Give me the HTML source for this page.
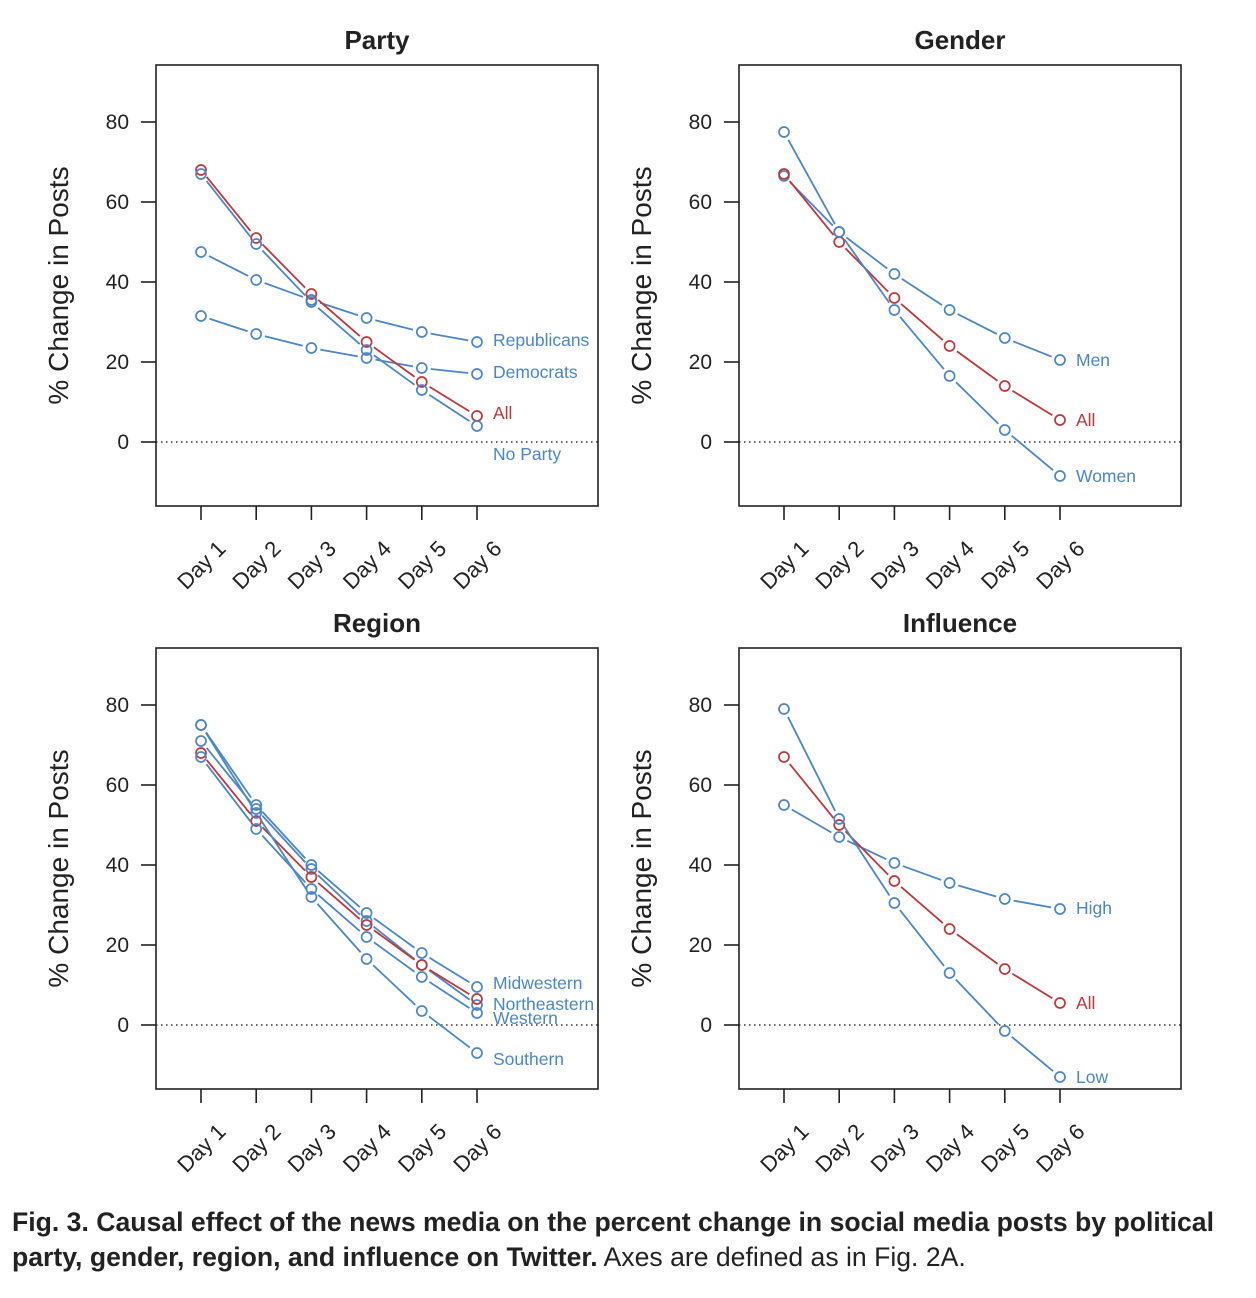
<!DOCTYPE html>
<html><head><meta charset="utf-8"><style>
body{margin:0;background:#fff;}
svg{display:block;font-family:"Liberation Sans",sans-serif;}
</style></head><body>
<svg id="fig" width="1256" height="1298" viewBox="0 0 1256 1298" xmlns="http://www.w3.org/2000/svg">
<text x="12" y="1231" font-size="26.6" font-weight="bold" fill="#222" textLength="1202">Fig. 3. Causal effect of the news media on the percent change in social media posts by political</text>
<text x="12" y="1266" font-size="26.6" fill="#222"><tspan font-weight="bold">party, gender, region, and influence on Twitter.</tspan> Axes are defined as in Fig. 2A.</text>
</svg>
<script>
const days = ["Day 1","Day 2","Day 3","Day 4","Day 5","Day 6"];
const yTicks = [0,20,40,60,80];
const partyNames = ["Republicans","Democrats","All","No Party"];
const partyValues = [[47.5,40.5,35.5,31,27.5,25],[31.5,27,23.5,21,18.5,17],[68,51,37,25,15,6.5],[67,49.5,35,23,13,4]];
const partyLabelDy = [-2,-2,-3,28];
const genderNames = ["Men","All","Women"];
const genderValues = [[66.5,52.5,42,33,26,20.5],[67,50,36,24,14,5.5],[77.5,52.5,33,16.5,3,-8.5]];
const genderLabelDy = [0,0,0];
const regionNames = ["Midwestern","Northeastern","All","Western","Southern"];
const regionValues = [[75,55,40,28,18,9.5],[71,54,39,26,15,5],[68,51,37,25,15,6.5],[67,49,34,22,12,3],[75,53,32,16.5,3.5,-7]];
const regionLabelDy = [-4,-1,null,5,6];
const influenceNames = ["High","All","Low"];
const influenceValues = [[55,47,40.5,35.5,31.5,29],[67,50,36,24,14,5.5],[79,51.5,30.5,13,-1.5,-13]];
const influenceLabelDy = [-1,0,0];

const BLUE="#4a86c8", RED="#c0373a";
const svg=document.getElementById('fig');
const NS="http://www.w3.org/2000/svg";
function mk(tag,attrs,parent){const e=document.createElementNS(NS,tag);for(const k in attrs)e.setAttribute(k,attrs[k]);parent.appendChild(e);return e;}

function panel(title,left,top,names,values,labelDy,key){
  const g=mk('g',{},svg);
  
  
  const W=442,H=441;
  const x=i=>left+45+i*55.2;
  const y=v=>top+57+(80-v)*4;
  const t=mk('text',{x:left+221,y:top-16,'text-anchor':'middle','font-size':26,'font-weight':'bold',fill:'#222'},g);
  t.textContent=title;
  
  
  const box=mk('rect',{x:left,y:top,width:W,height:H,fill:'none',stroke:'#222','stroke-width':1.6},g);
  
  
  const z=mk('line',{x1:left,x2:left+W,y1:y(0),y2:y(0),stroke:'#333','stroke-width':1.6,'stroke-dasharray':'1.5 3.5'},g);
  
  
  yTicks.forEach(v=>{
    mk('line',{x1:left-15,x2:left,y1:y(v),y2:y(v),stroke:'#222','stroke-width':1.6},g);
    const tl=mk('text',{x:left-27,y:y(v)+7,'text-anchor':'end','font-size':21,fill:'#222'},g);
    tl.textContent=v;
    
    
  });
  days.forEach((d,i)=>{
    mk('line',{x1:x(i),x2:x(i),y1:top+H,y2:top+H+14,stroke:'#222','stroke-width':1.6},g);
    const ax=x(i)+26, ay=top+H+44;
    const tl=mk('text',{x:ax,y:ay,'text-anchor':'end','font-size':22,fill:'#222',transform:`rotate(-45 ${ax} ${ay})`},g);
    tl.textContent=d;
    
    
  });
  const yl=mk('text',{x:0,y:0,'text-anchor':'middle','font-size':28,fill:'#222',transform:`translate(${left-88},${top+H/2}) rotate(-90)`},g);
  yl.textContent="% Change in Posts";
  
  
  names.forEach((n,si)=>{
    const col=n==="All"?RED:BLUE;
    const sg=mk('g',{},g);
    
    
    const vs=values[si];
    for(let i=0;i<vs.length-1;i++){
      const x1=x(i),y1=y(vs[i]),x2=x(i+1),y2=y(vs[i+1]);
      const dx=x2-x1,dy=y2-y1,L=Math.hypot(dx,dy),gap=9;
      if(L>2*gap) mk('line',{x1:x1+dx/L*gap,y1:y1+dy/L*gap,x2:x2-dx/L*gap,y2:y2-dy/L*gap,stroke:col,'stroke-width':1.8},sg);
    }
    vs.forEach((v,i)=>{
      const c=mk('circle',{cx:x(i),cy:y(v),r:5,fill:'none',stroke:col,'stroke-width':1.7},sg);
      
      
    });
    if(labelDy[si]!==null){
      const lt=mk('text',{x:x(5)+16,y:y(vs[5])+6+labelDy[si],'font-size':17.5,fill:col},sg);
      lt.textContent=n;
      
      
    }
  });
}
panel("Party",156,65,partyNames,partyValues,partyLabelDy,'party');
panel("Gender",739,65,genderNames,genderValues,genderLabelDy,'gender');
panel("Region",156,648,regionNames,regionValues,regionLabelDy,'region');
panel("Influence",739,648,influenceNames,influenceValues,influenceLabelDy,'influence');
</script>
</body></html>
